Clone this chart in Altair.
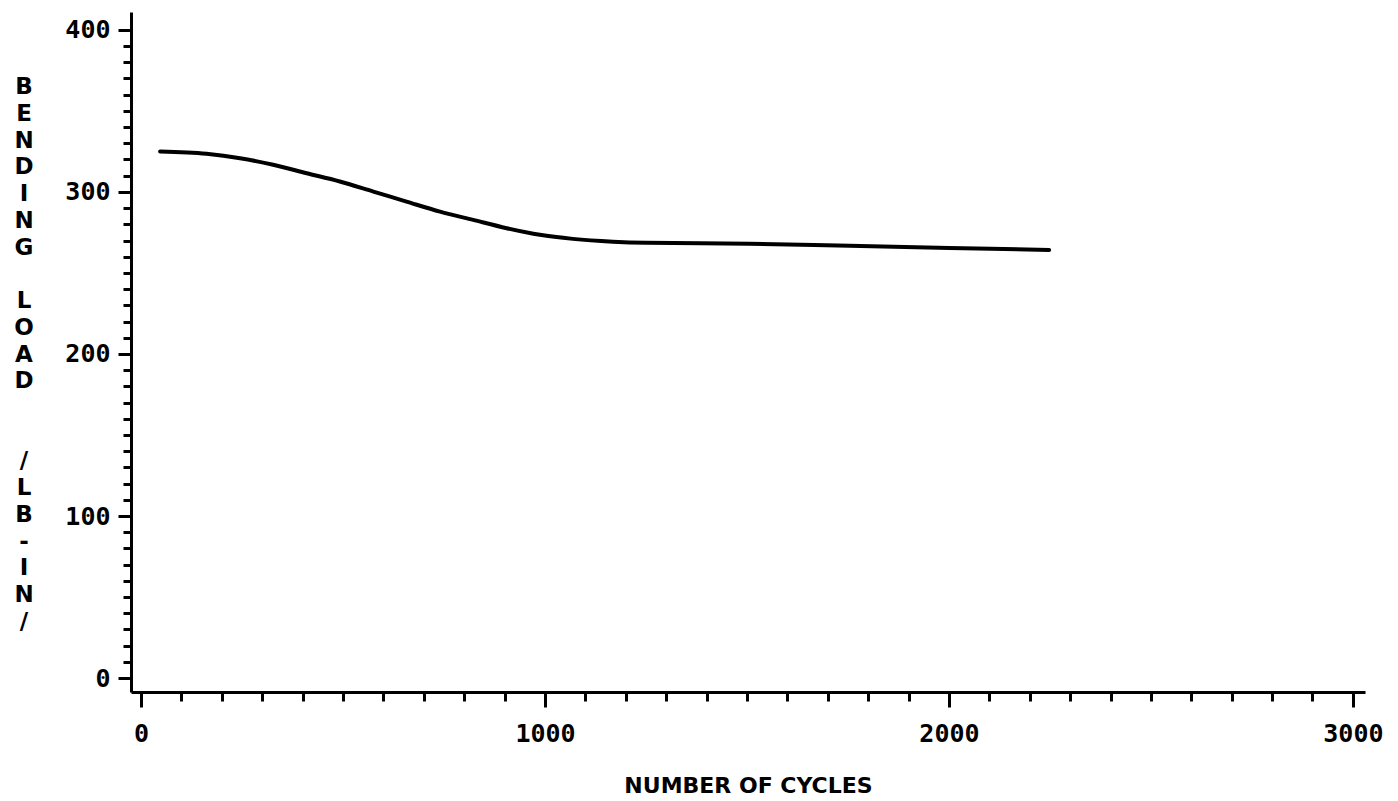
import altair as alt
import pandas as pd

# Bending load recorded against the number of load cycles
cycles = [47, 162, 245, 327, 410, 492, 575, 657, 740, 822, 905, 987, 1069, 1168,
          1250, 1506, 1754, 2001, 2248]
load = [324.9, 323.5, 320.8, 316.7, 311.5, 306.4, 300.2, 294.0, 287.8, 282.7,
        277.6, 273.5, 271.0, 269.3, 268.6, 268.0, 266.7, 265.4, 264.2]

x_ticks = list(range(0, 3001, 100))
y_ticks = list(range(0, 401, 10))

# vertical y-axis caption: one upright character per row, blank rows between words
y_title_words = ["BENDING", "LOAD", "", "/LB-IN/"]

chars, rows = [], []
row = 0
for word in y_title_words:
    for ch in word:
        chars.append(ch)
        rows.append(row)
        row += 1
    row += 1

df = pd.DataFrame({"cycles": cycles, "load": load})
title_df = pd.DataFrame({"char": chars, "row": rows})

label_font = "DejaVu Sans Mono"
title_font = "DejaVu Sans"

x_axis = alt.Axis(
    values=x_ticks,
    format="d",
    labelExpr="datum.value % 1000 === 0 ? datum.label : ''",
    tickSize={"condition": {"test": "datum.value % 1000 === 0", "value": 15}, "value": 9},
    tickWidth=3,
    domainWidth=3,
    domainColor="black",
    tickColor="black",
    labelFont=label_font,
    labelFontWeight="bold",
    labelFontSize=25,
    labelColor="black",
    labelPadding=14,
    labelOverlap=False,
    labelFlush=False,
    grid=False,
    title="NUMBER OF CYCLES",
    titleFont=title_font,
    titleFontWeight="bold",
    titleFontSize=22,
    titleColor="black",
    titleX=617,
    titleY=83,
    titleAlign="center",
    titleBaseline="top",
)

y_axis = alt.Axis(
    values=y_ticks,
    format="d",
    labelExpr="datum.value % 100 === 0 ? datum.label : ''",
    tickSize={"condition": {"test": "datum.value % 100 === 0", "value": 13}, "value": 8},
    tickWidth=3,
    domainWidth=3,
    domainColor="black",
    tickColor="black",
    labelFont=label_font,
    labelFontWeight="bold",
    labelFontSize=25,
    labelColor="black",
    labelPadding=8,
    labelOverlap=False,
    labelFlush=False,
    grid=False,
    title=None,
)

curve = (
    alt.Chart(df)
    .mark_line(color="black", strokeWidth=4, interpolate="monotone", strokeCap="round")
    .encode(
        x=alt.X("cycles:Q", scale=alt.Scale(domain=[-25, 3030], nice=False, zero=False), axis=x_axis),
        y=alt.Y("load:Q", scale=alt.Scale(domain=[-8.6, 411], nice=False, zero=False), axis=y_axis),
    )
)

y_caption = (
    alt.Chart(title_df)
    .mark_text(
        font=title_font,
        fontWeight="bold",
        fontSize=23,
        color="black",
        align="center",
        baseline="middle",
        clip=False,
    )
    .encode(
        x=alt.value(-107),
        y=alt.Y("row:Q", scale=alt.Scale(domain=[-2.804, 22.617], reverse=True, nice=False, zero=False), axis=None),
        text="char:N",
    )
)

chart = (
    alt.layer(curve, y_caption)
    .resolve_scale(y="independent")
    .properties(
        width=1234,
        height=680,
        autosize=alt.AutoSizeParams(type="none"),
        padding={"left": 131, "top": 12, "right": 33, "bottom": 109},
        background="white",
    )
    .configure_view(stroke=None)
)

chart.save("out.html", embed_options={"renderer": "svg", "actions": False})
